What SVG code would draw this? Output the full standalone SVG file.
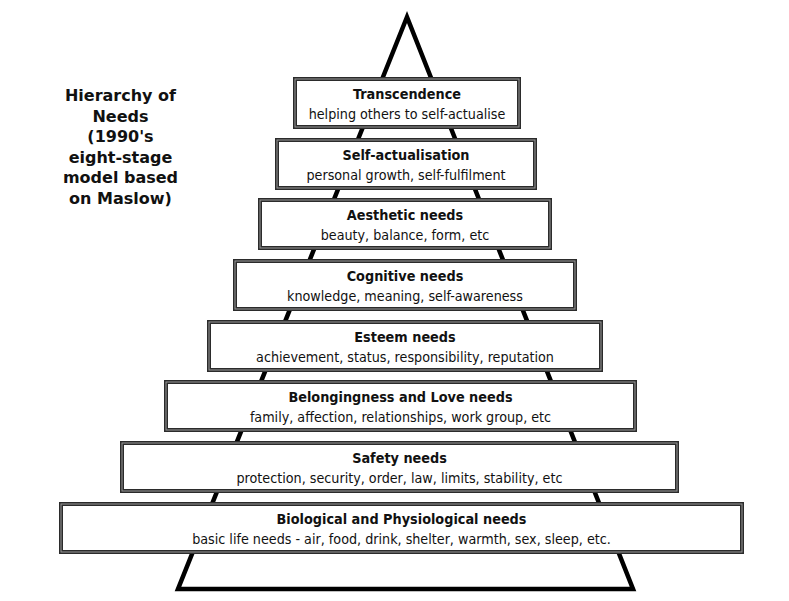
<svg xmlns="http://www.w3.org/2000/svg" width="789" height="601" viewBox="0 0 789 601">
<style>
.bo{fill:#fff;stroke:#2b2b2b;stroke-width:4}
.bi{fill:none;stroke:#9a9a9a;stroke-width:1}
.t{font-family:"DejaVu Sans Condensed","DejaVu Sans",sans-serif;font-size:14.3px;font-weight:bold;fill:#111;text-anchor:middle}
.s{font-family:"DejaVu Sans Condensed","DejaVu Sans",sans-serif;font-size:14.2px;fill:#111;text-anchor:middle}
.h{font-family:"DejaVu Sans","Liberation Sans",sans-serif;font-size:16px;font-weight:bold;fill:#111;text-anchor:middle}
</style>
<rect width="789" height="601" fill="#fff"/>
<g id="pyramid">
<polygon points="407,17 178,589 633,589" fill="none" stroke="#000" stroke-width="4.5" stroke-linejoin="miter"/>
</g>
<g id="title">
<text class="h" x="120.5" y="101">Hierarchy of</text>
<text class="h" x="120.5" y="121.5">Needs</text>
<text class="h" x="120.5" y="142">(1990's</text>
<text class="h" x="120.5" y="162.5">eight-stage</text>
<text class="h" x="120.5" y="183">model based</text>
<text class="h" x="120.5" y="203.5">on Maslow)</text>
</g>
<g id="connectors"></g>
<g id="n1">
<rect class="bo" x="295" y="79" width="224" height="48"/><rect class="bi" x="295" y="79" width="224" height="48"/>
<text class="t" x="407" y="98.5">Transcendence</text>
<text class="s" x="407" y="118.5">helping others to self-actualise</text>
</g>
<g id="n2">
<rect class="bo" x="277" y="140" width="258" height="48"/><rect class="bi" x="277" y="140" width="258" height="48"/>
<text class="t" x="406" y="159.5">Self-actualisation</text>
<text class="s" x="406" y="179.5">personal growth, self-fulfilment</text>
</g>
<g id="n3">
<rect class="bo" x="260" y="200" width="290" height="48"/><rect class="bi" x="260" y="200" width="290" height="48"/>
<text class="t" x="405" y="219.5">Aesthetic needs</text>
<text class="s" x="405" y="239.5">beauty, balance, form, etc</text>
</g>
<g id="n4">
<rect class="bo" x="235" y="261" width="340" height="48"/><rect class="bi" x="235" y="261" width="340" height="48"/>
<text class="t" x="405" y="280.5">Cognitive needs</text>
<text class="s" x="405" y="300.5">knowledge, meaning, self-awareness</text>
</g>
<g id="n5">
<rect class="bo" x="209" y="322" width="392" height="48"/><rect class="bi" x="209" y="322" width="392" height="48"/>
<text class="t" x="405" y="341.5">Esteem needs</text>
<text class="s" x="405" y="361.5">achievement, status, responsibility, reputation</text>
</g>
<g id="n6">
<rect class="bo" x="166" y="382" width="469" height="48"/><rect class="bi" x="166" y="382" width="469" height="48"/>
<text class="t" x="400.5" y="401.5">Belongingness and Love needs</text>
<text class="s" x="400.5" y="421.5">family, affection, relationships, work group, etc</text>
</g>
<g id="n7">
<rect class="bo" x="122" y="443" width="555" height="48"/><rect class="bi" x="122" y="443" width="555" height="48"/>
<text class="t" x="399.5" y="462.5">Safety needs</text>
<text class="s" x="399.5" y="482.5">protection, security, order, law, limits, stability, etc</text>
</g>
<g id="n8">
<rect class="bo" x="61" y="504" width="681" height="48"/><rect class="bi" x="61" y="504" width="681" height="48"/>
<text class="t" x="401.5" y="523.5">Biological and Physiological needs</text>
<text class="s" x="401.5" y="543.5">basic life needs - air, food, drink, shelter, warmth, sex, sleep, etc.</text>
</g>
</svg>
